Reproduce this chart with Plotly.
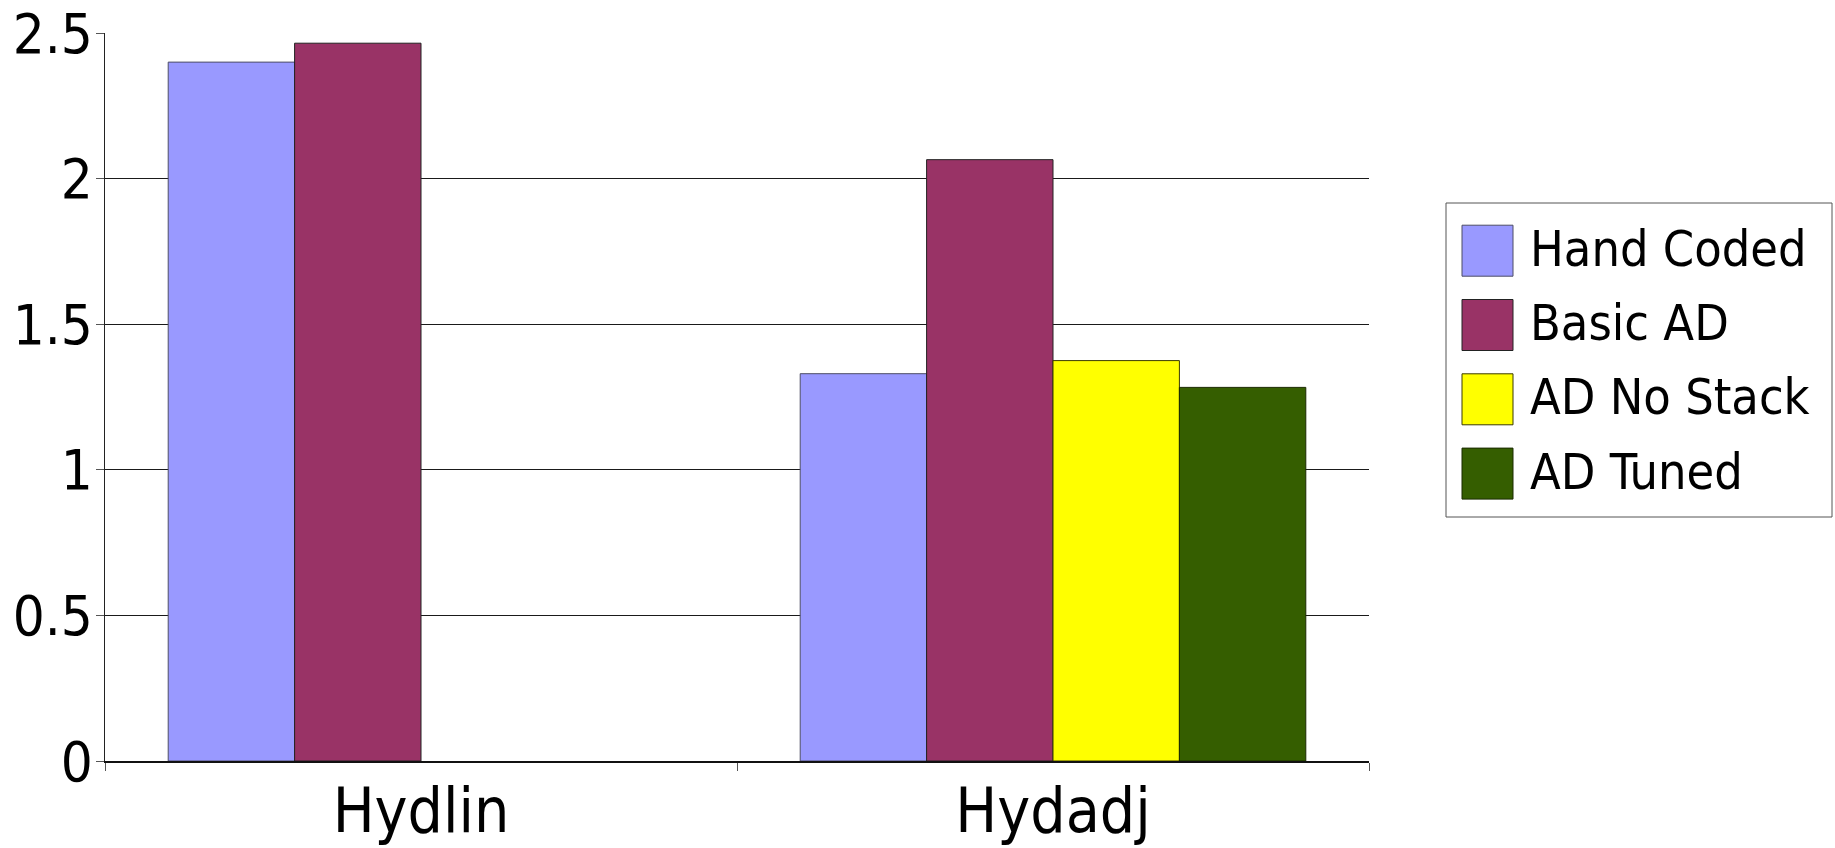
import plotly.graph_objects as go

# Benchmark categories and per-configuration results
categories = ["Hydlin", "Hydadj"]
series_names = ["Hand Coded", "Basic AD", "AD No Stack", "AD Tuned"]
hand_coded = [2.40, 1.33]
basic_ad = [2.465, 2.065]
ad_no_stack = [None, 1.375]
ad_tuned = [None, 1.283]
y_ticks = [0, 0.5, 1, 1.5, 2, 2.5]
y_tick_labels = ["0", "0.5", "1", "1.5", "2", "2.5"]

colors = ["#9999FF", "#993366", "#FFFF00", "#355E00"]
outlines = ["#4d4d66", "#222222", "#3a3a00", "#1a2a00"]
series_values = [hand_coded, basic_ad, ad_no_stack, ad_tuned]

FONT = "DejaVu Sans Condensed, DejaVu Sans, sans-serif"

W, H = 1835, 848
L, R, T, B = 105, 466, 33, 87

fig = go.Figure()
for name, vals, col, oc in zip(series_names, series_values, colors, outlines):
    fig.add_trace(go.Bar(
        x=categories, y=vals, name=name,
        marker=dict(color=col, line=dict(color=oc, width=1)),
        showlegend=False,
    ))

fig.update_layout(
    width=W, height=H, autosize=False,
    margin=dict(l=L, r=R, t=T, b=B, pad=0),
    paper_bgcolor="white", plot_bgcolor="white",
    barmode="group", bargap=0.2, bargroupgap=0,
    font=dict(family=FONT, color="black"),
    xaxis=dict(
        type="category", showgrid=False, showline=True, linecolor="#111111",
        linewidth=2, ticks="outside", tickson="boundaries", ticklen=8,
        tickcolor="#555555", tickfont=dict(size=62, family=FONT),
        ticklabelstandoff=-5, zeroline=False, automargin=False,
    ),
    yaxis=dict(
        range=[0, 2.5], tickvals=y_ticks, ticktext=y_tick_labels,
        showgrid=True, gridcolor="#1a1a1a", gridwidth=1,
        showline=True, linecolor="#222222", linewidth=1,
        ticks="outside", ticklen=8, tickcolor="#555555",
        tickfont=dict(size=56, family=FONT), ticklabelstandoff=-8,
        zeroline=False, automargin=False,
    ),
)

# Legend box drawn in pixel space converted to paper coordinates
pw, ph = W - L - R, H - T - B


def px(x):
    return (x - L) / pw


def py(y):
    return (H - B - y) / ph


shapes = [dict(type="rect", xref="paper", yref="paper",
               x0=px(1446), x1=px(1832), y0=py(203), y1=py(517),
               line=dict(color="#555555", width=1), fillcolor="white")]
annotations = []
row0, step, sw = 250.7, 74.3, 51
for i, (name, col, oc) in enumerate(zip(series_names, colors, outlines)):
    cy = row0 + i * step
    shapes.append(dict(type="rect", xref="paper", yref="paper",
                       x0=px(1462), x1=px(1462 + sw),
                       y0=py(cy + sw / 2), y1=py(cy - sw / 2),
                       line=dict(color=oc, width=1), fillcolor=col))
    annotations.append(dict(xref="paper", yref="paper", x=px(1528), y=py(cy - 2),
                            text=name, showarrow=False, xanchor="left",
                            yanchor="middle", font=dict(size=50, family=FONT)))

fig.update_layout(shapes=shapes, annotations=annotations)
fig.write_html("out.html")
